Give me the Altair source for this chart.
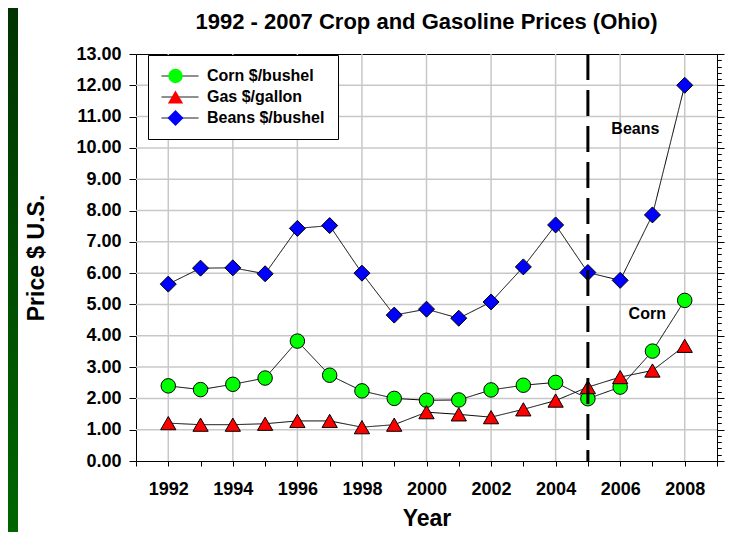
import altair as alt
import pandas as pd

# ---------------- data ----------------
years = list(range(1992, 2009))
corn = [2.40, 2.28, 2.45, 2.65, 3.83, 2.74, 2.24, 2.00, 1.94, 1.95, 2.27, 2.42, 2.51, 1.99, 2.36, 3.51, 5.13]
gas = [1.21, 1.16, 1.16, 1.19, 1.28, 1.28, 1.08, 1.16, 1.56, 1.49, 1.40, 1.65, 1.93, 2.36, 2.68, 2.89, 3.68]
beans = [5.65, 6.16, 6.17, 5.98, 7.43, 7.52, 6.00, 4.66, 4.85, 4.56, 5.08, 6.20, 7.54, 6.02, 5.77, 7.86, 12.00]

series_names = ["Corn $/bushel", "Gas $/gallon", "Beans $/bushel"]
series_colors = ["#00ff00", "#ff0000", "#0000ff"]
series_shapes = ["circle", "triangle-up", "diamond"]
series_sizes = [210, 256, 360]

annot_labels = ["Beans", "Corn"]
annot_x = [2006.47, 2006.84]
annot_y = [10.59, 4.68]

marker_year = [2005]
x_domain = [1991, 2009]
y_domain = [0, 13]
x_tick_years = list(range(1991, 2010))
x_grid_years = list(range(1992, 2009, 2))
y_major = list(range(0, 14))
y_grid = list(range(1, 13))
y_minor = [round(i * 0.2, 1) for i in range(0, 66)]

FONT = "Liberation Sans"
GRID = "#c8c8c8"

# line legend uses a label copy (trailing space) so it is not merged with the marker legend
line_names = [n + " " for n in series_names]

rows = []
for name, lname, vals in zip(series_names, line_names, [corn, gas, beans]):
    for yr, v in zip(years, vals):
        rows.append({"year": yr, "price": v, "series": name, "series_line": lname})
df = pd.DataFrame(rows)

xscale = alt.Scale(domain=x_domain, nice=False, zero=False)
yscale = alt.Scale(domain=y_domain, nice=False)

# ---------------- decoration strip (green slide border) ----------------
green_grad = alt.Gradient(
    gradient="linear",
    stops=[alt.GradientStop(color="#003300", offset=0),
           alt.GradientStop(color="#006600", offset=1)],
    x1=0, x2=0, y1=0, y2=1,
)
strip_left = alt.Chart(pd.DataFrame({"k": [0]})).mark_rect(fill=green_grad).encode(
    x=alt.value(-128), x2=alt.value(-118), y=alt.value(-46), y2=alt.value(478)
)

# ---------------- grid lines ----------------
vgrid = alt.Chart(pd.DataFrame({"year": x_grid_years})).mark_rule(color=GRID, strokeWidth=1.5).encode(
    x=alt.X("year:Q", scale=xscale, axis=None)
)
hgrid = alt.Chart(pd.DataFrame({"v": y_grid})).mark_rule(color=GRID, strokeWidth=1.5).encode(
    y=alt.Y("v:Q", scale=yscale, axis=None)
)

# ---------------- legends ----------------
leg_lines = alt.Legend(
    orient="none", legendX=12, legendY=1, padding=13, title=None,
    clipHeight=16, rowPadding=5,
    labelFont=FONT, labelFontSize=16, labelFontWeight="bold", labelColor="black",
    labelOffset=8, labelLimit=0,
    symbolType="stroke", symbolSize=1369, symbolStrokeWidth=1, symbolStrokeColor="black",
    strokeColor="black", fillColor="white", zindex=1,
)
leg_pts = alt.Legend(
    orient="none", legendX=18, legendY=1, padding=13, title=None,
    clipHeight=16, rowPadding=5,
    labelFont=FONT, labelFontSize=16, labelFontWeight="bold", labelExpr="''",
    labelOffset=8, labelLimit=0,
    symbolStrokeColor="black", symbolStrokeWidth=1,
    zindex=2,
)

# ---------------- lines ----------------
lines = alt.Chart(df).mark_line(color="black", strokeWidth=1).encode(
    x=alt.X("year:Q", scale=xscale, axis=alt.Axis(
        values=x_tick_years, labelExpr="datum.value % 2 === 0 ? '' + datum.value : ''",
        tickSize=5, labelPadding=14, labelFontSize=18, labelFontWeight="bold",
        labelOverlap=False, labelFlush=False, grid=False, domain=False,
        title="Year", titleFontSize=23, titleFontWeight="bold", titlePadding=9)),
    y=alt.Y("price:Q", scale=yscale, axis=alt.Axis(
        values=y_major, format=".2f", tickSize=7, labelPadding=8, labelFontSize=18,
        labelFontWeight="bold", labelOverlap=False, labelFlush=False,
        grid=False, domain=False,
        title="Price $ U.S.", titleFontSize=23, titleFontWeight="bold", titlePadding=27)),
    strokeDash=alt.StrokeDash("series_line:N", scale=alt.Scale(domain=line_names, range=[[1, 0]] * 3),
                              legend=leg_lines),
)

# ---------------- points ----------------
pts = alt.Chart(df).mark_point(filled=True, stroke="black", strokeWidth=1, opacity=1).encode(
    x=alt.X("year:Q", scale=xscale, axis=None),
    y=alt.Y("price:Q", scale=yscale, axis=alt.Axis(
        values=y_minor, tickSize=4, labels=False, grid=False, domain=False, title=None)),
    fill=alt.Fill("series:N", scale=alt.Scale(domain=series_names, range=series_colors), legend=leg_pts),
    shape=alt.Shape("series:N", scale=alt.Scale(domain=series_names, range=series_shapes), legend=leg_pts),
    size=alt.Size("series:N", scale=alt.Scale(domain=series_names, range=series_sizes), legend=leg_pts),
)

# ---------------- annotations ----------------
annot = alt.Chart(pd.DataFrame({"label": annot_labels, "x": annot_x, "y": annot_y})).mark_text(
    font=FONT, fontSize=16, fontWeight="bold", color="black"
).encode(
    x=alt.X("x:Q", scale=xscale, axis=None),
    y=alt.Y("y:Q", scale=yscale, axis=alt.Axis(
        orient="right", values=y_major, tickSize=7, labels=False, grid=False, domain=False, title=None)),
    text="label:N",
)

# ---------------- dashed vertical line ----------------
dash = alt.Chart(pd.DataFrame({"year": marker_year})).mark_rule(
    color="black", strokeWidth=3, strokeDash=[26, 10]
).encode(
    x=alt.X("year:Q", scale=xscale, axis=None),
    y=alt.YDatum(y_domain[1], type="quantitative", scale=yscale, axis=alt.Axis(
        orient="right", values=y_minor, tickSize=4, labels=False, grid=False, domain=False, title=None)),
    y2=alt.Y2Datum(y_domain[0]),
)

chart = alt.layer(strip_left, vgrid, hgrid, lines, pts, annot, dash).resolve_axis(
    x="independent", y="independent"
).properties(
    width=581, height=407,
    title=alt.Title("1992 - 2007 Crop and Gasoline Prices (Ohio)", font=FONT, fontSize=22,
                    fontWeight="bold", anchor="middle", frame="group", offset=0, dy=26,
                    color="black"),
    padding={"left": 128, "top": 46, "right": 26, "bottom": 71},
    autosize=alt.AutoSizeParams(type="none"),
    background="white",
).configure_view(stroke="black", strokeWidth=1).configure_axis(
    domainColor="black", tickColor="black", labelColor="black", titleColor="black",
    labelFont=FONT, titleFont=FONT,
)

chart.save("out.html", embed_options={"renderer": "svg", "actions": False})
